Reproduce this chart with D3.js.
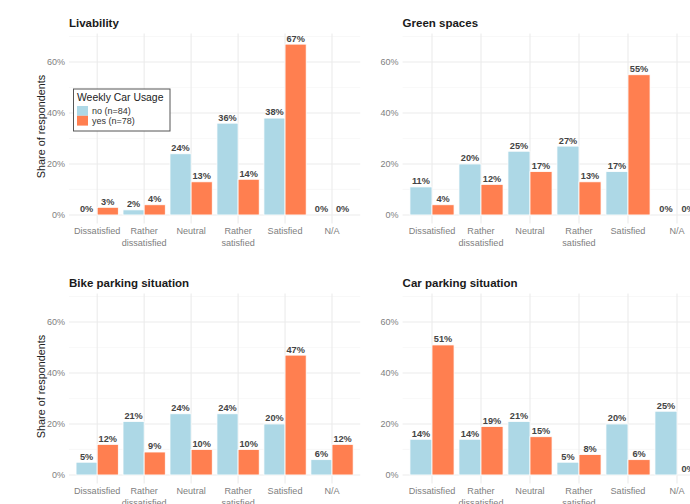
<!DOCTYPE html>
<html>
<head>
<meta charset="utf-8">
<script src="https://cdn.jsdelivr.net/npm/d3@7"></script>
<style>
  html, body { margin: 0; padding: 0; background: #fff; }
  svg { display: block; font-family: "Liberation Sans", Arial, Helvetica, sans-serif; }
</style>
</head>
<body>
<svg id="chart" width="690" height="504"></svg>
<script>
// Satisfaction categories and y-axis ticks
const categories = ["Dissatisfied", "Rather dissatisfied", "Neutral", "Rather satisfied", "Satisfied", "N/A"];
const categoryLines = [["Dissatisfied"], ["Rather", "dissatisfied"], ["Neutral"], ["Rather", "satisfied"], ["Satisfied"], ["N/A"]];
const yTicks = [0, 20, 40, 60];
const yMinor = [10, 30, 50, 70];

// Weekly car usage groups
const groups = ["no", "yes"];
const groupLabels = ["no (n=84)", "yes (n=78)"];
const groupColors = ["#ADD8E6", "#FF7F50"];

// Share of respondents (%) per topic
const livabilityNo = [0, 2, 24, 36, 38, 0];
const livabilityYes = [3, 4, 13, 14, 67, 0];
const greenNo = [11, 20, 25, 27, 17, 0];
const greenYes = [4, 12, 17, 13, 55, 0];
const bikeNo = [5, 21, 24, 24, 20, 6];
const bikeYes = [12, 9, 10, 10, 47, 12];
const carNo = [14, 14, 21, 5, 20, 25];
const carYes = [51, 19, 15, 8, 6, 0];

const panels = [
  { title: "Livability", no: livabilityNo, yes: livabilityYes, col: 0, row: 0, legend: true },
  { title: "Green spaces", no: greenNo, yes: greenYes, col: 1, row: 0 },
  { title: "Bike parking situation", no: bikeNo, yes: bikeYes, col: 0, row: 1 },
  { title: "Car parking situation", no: carNo, yes: carYes, col: 1, row: 1 }
];

const svg = d3.select("#chart");
const W = 690, H = 504;

// panel frames: left column carries the y-axis title, so it is narrower
const colFrames = [
  { left: 69, right: 360.2, axisX: 65 },
  { left: 402.6, right: 706.4, axisX: 398.5 }
];
const rowFrames = [
  { top: 35.6, bottom: 223.5, titleY: 27 },
  { top: 295.6, bottom: 483.5, titleY: 287 }
];

svg.append("defs").append("clipPath").attr("id", "page")
  .append("rect").attr("x", 0).attr("y", 0).attr("width", W).attr("height", H);
const root = svg.append("g").attr("clip-path", "url(#page)");

panels.forEach(p => {
  const cf = colFrames[p.col], rf = rowFrames[p.row];
  // discrete expansion of 0.6 units on each side
  const step = (cf.right - cf.left) / (categories.length - 1 + 1.2);
  const xc = d3.scalePoint().domain(categories)
    .range([cf.left + 0.6 * step, cf.right - 0.6 * step]);
  const xg = d3.scaleBand().domain(groups).range([-0.45 * step, 0.45 * step]);
  const y = d3.scaleLinear().domain([-3.35, 70.35]).range([rf.bottom, rf.top]);

  const g = root.append("g");

  // grid
  g.selectAll(".ymin").data(yMinor).join("line")
    .attr("x1", cf.left).attr("x2", cf.right)
    .attr("y1", d => y(d)).attr("y2", d => y(d))
    .attr("stroke", "#f3f3f3").attr("stroke-width", 0.6);
  g.selectAll(".ymaj").data(yTicks).join("line")
    .attr("x1", cf.left).attr("x2", cf.right)
    .attr("y1", d => y(d)).attr("y2", d => y(d))
    .attr("stroke", "#ebebeb").attr("stroke-width", 1.1);
  g.selectAll(".xmaj").data(categories).join("line")
    .attr("x1", d => xc(d)).attr("x2", d => xc(d))
    .attr("y1", rf.top - 2).attr("y2", rf.bottom)
    .attr("stroke", "#ebebeb").attr("stroke-width", 1.1);

  // y axis labels
  const yAxis = d3.axisLeft(y).tickValues(yTicks).tickFormat(d => d + "%").tickSize(0).tickPadding(0);
  const ya = g.append("g").attr("transform", `translate(${cf.axisX},0)`).call(yAxis);
  ya.select(".domain").remove();
  ya.selectAll("text").attr("fill", "#808080").attr("font-size", 9)
    .attr("font-family", "'Liberation Sans', Arial, sans-serif");

  // x axis labels (multi-line)
  const xl = g.selectAll(".xl").data(categories).join("text")
    .attr("x", d => xc(d)).attr("y", y(0) + 19.5)
    .attr("text-anchor", "middle").attr("fill", "#808080").attr("font-size", 9.1);
  xl.each(function(d, i) {
    const t = d3.select(this);
    categoryLines[i].forEach((ln, j) => {
      t.append("tspan").attr("x", xc(d)).attr("dy", j === 0 ? 0 : 11.5).text(ln);
    });
  });

  // bars
  const rows = [];
  categories.forEach((c, i) => {
    groups.forEach((gr, k) => rows.push({ cat: c, grp: gr, k, v: p[gr][i] }));
  });
  g.selectAll(".bar").data(rows.filter(r => r.v > 0)).join("rect")
    .attr("x", r => xc(r.cat) + xg(r.grp))
    .attr("width", xg.bandwidth())
    .attr("y", r => y(r.v))
    .attr("height", r => y(0) - y(r.v))
    .attr("fill", r => groupColors[r.k])
    .attr("stroke", "#ffffff").attr("stroke-width", 0.8);

  // value labels
  g.selectAll(".val").data(rows).join("text")
    .attr("x", r => xc(r.cat) + xg(r.grp) + xg.bandwidth() / 2)
    .attr("y", r => y(r.v) - 2.6)
    .attr("text-anchor", "middle").attr("font-size", 9.2).attr("font-weight", "bold")
    .attr("fill", "#444")
    .text(r => r.v + "%");

  // panel title
  g.append("text").attr("x", cf.left).attr("y", rf.titleY)
    .attr("font-size", 11.5).attr("font-weight", "bold").attr("fill", "#1a1a1a")
    .text(p.title);

  // y axis title on left column
  if (p.col === 0) {
    const cy = (rf.top + rf.bottom) / 2 - 3;
    g.append("text").attr("transform", `translate(44.5,${cy}) rotate(-90)`)
      .attr("text-anchor", "middle").attr("font-size", 10.8).attr("fill", "#222")
      .text("Share of respondents");
  }

  // legend
  if (p.legend) {
    const lg = g.append("g").attr("transform", "translate(73.5,89)");
    lg.append("rect").attr("width", 96.5).attr("height", 42)
      .attr("fill", "#fff").attr("stroke", "#555").attr("stroke-width", 1);
    lg.append("text").attr("x", 3.5).attr("y", 11.5).attr("font-size", 10.4).attr("fill", "#222")
      .text("Weekly Car Usage");
    groups.forEach((gr, k) => {
      lg.append("rect").attr("x", 3.5).attr("y", 17 + k * 9.8).attr("width", 11).attr("height", 9.8)
        .attr("fill", groupColors[k]);
      lg.append("text").attr("x", 18.5).attr("y", 25 + k * 9.8).attr("font-size", 9).attr("fill", "#333")
        .text(groupLabels[k]);
    });
  }
});
</script>
</body>
</html>
